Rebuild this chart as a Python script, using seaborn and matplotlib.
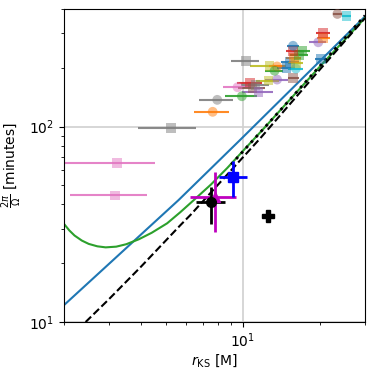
import numpy as np
import pandas as pd
import matplotlib
matplotlib.use("Agg")
import matplotlib.pyplot as plt
import seaborn as sns
from matplotlib.ticker import NullFormatter

# pontos "flare" (apagados): raio, erro em x, periodo, cor, marcador
r_flare = [5.24, 3.23, 3.17, 7.62, 7.94, 10.3, 9.91, 9.53, 10.7, 10.9, 11.2, 11.5,
           13.6, 12.6, 15.75, 12.7, 13.6, 13.3, 14.8, 16.1, 15.3, 16.1, 15.8, 17.0,
           16.6, 15.75, 15.7, 19.7, 20.2, 20.6, 20.6, 23.4, 25.4]
r_flare_err = [1.33, 1.3, 1.05, 1.2, 1.2, 1.3, 1.4, 1.2, 1.2, 1.3, 1.4, 1.6,
               1.4, 1.3, 0.8, 2.0, 1.0, 1.1, 1.2, 1.1, 1.2, 1.1, 1.0, 1.3,
               1.3, 1.0, 0.8, 1.5, 1.0, 1.2, 1.3, 1.0, 1.0]
p_flare = [98.4, 64.9, 44.4, 119, 137, 216, 143, 159, 168, 158, 163, 151,
           174, 172, 177, 205, 203, 193, 199, 198, 215, 211, 224, 245,
           232, 244, 259, 270, 221, 283, 300, 377, 369]
cores = ["gray", "pink", "pink", "orange", "gray", "gray", "green", "pink", "red", "brown", "gray", "purple",
         "purple", "olive", "brown", "olive", "orange", "green", "blue", "cyan", "blue", "olive", "orange", "green",
         "green", "red", "blue", "purple", "blue", "orange", "red", "brown", "cyan"]
marcadores = ["s", "s", "s", "o", "o", "s", "o", "o", "s", "s", "s", "s",
              "o", "s", "s", "s", "o", "o", "s", "o", "s", "s", "s", "s",
              "s", "s", "o", "o", "s", "s", "s", "o", "s"]

# pontos destacados
r_dest = [7.8, 7.51, 9.12]
r_dest_err = [[1.56, 0.95, 1.08], [1.62, 0.97, 1.3]]
p_dest = [43.8, 41.0, 55.5]
p_dest_err = [[15.0, 9.3, 11.7], [14.6, 8.3, 11.2]]
cor_dest = ["m", "k", "b"]
marc_dest = ["^", "o", "s"]
r_plus, p_plus = 12.5, 35.0

# curvas
r_azul = [2.0, 5.6, 9.76, 30.0]
p_azul = [12.2, 42.0, 85.5, 366]
r_verde = [2.0, 2.1, 2.2, 2.35, 2.5, 2.7, 2.91, 3.2, 3.5, 3.92, 4.4, 5.06, 5.7,
           6.5, 7.5, 8.7, 10.05, 12.0, 15.0, 20.0, 25.0, 30.0]
p_verde = [31.8, 29.4, 27.7, 26.1, 25.1, 24.4, 24.1, 24.3, 25.0, 26.5, 28.6, 32.0, 36.5,
           42.6, 50.5, 61.5, 75.5, 97.0, 134, 203, 278, 360]
r_tracejada = [2.43, 3.0, 4.0, 5.7, 6.24, 11.7, 20.0, 30.0]
p_tracejada = [10.0, 13.1, 19.2, 31.3, 35.3, 87.2, 196, 359]
r_pontilhada = [9.0, 15.0, 30.0]
p_pontilhada = [64.0, 134, 370]

tab = {"blue": "#1f77b4", "orange": "#ff7f0e", "green": "#2ca02c", "red": "#d62728",
       "purple": "#9467bd", "brown": "#8c564b", "pink": "#e377c2", "gray": "#7f7f7f",
       "olive": "#bcbd22", "cyan": "#17becf"}

df = pd.DataFrame({"r": r_flare, "p": p_flare, "cor": cores, "marc": marcadores})
df["id"] = df.index.astype(str)

fig = plt.figure(figsize=(3.74, 3.71), dpi=100)
ax = fig.add_axes([0.171, 0.132, 0.805, 0.844])
ax.set_xscale("log")
ax.set_yscale("log")

# barras de erro dos pontos apagados
for i in range(len(r_flare)):
    ax.errorbar(r_flare[i], p_flare[i], xerr=r_flare_err[i], fmt="none",
                ecolor=tab[cores[i]], elinewidth=1.5, alpha=0.9, zorder=2)

sns.scatterplot(data=df, x="r", y="p", hue="id", palette=[tab[c] for c in cores],
                style="id", markers=marcadores, s=50, alpha=0.5,
                edgecolor="none", legend=False, ax=ax, zorder=3)

# curvas
sns.lineplot(x=r_azul, y=p_azul, color="#1f77b4", lw=1.5, sort=False, estimator=None, ax=ax)
sns.lineplot(x=r_verde, y=p_verde, color="#2ca02c", lw=1.5, sort=False, estimator=None, ax=ax)
sns.lineplot(x=r_tracejada, y=p_tracejada, color="k", lw=1.5, linestyle="--",
             sort=False, estimator=None, ax=ax)
sns.lineplot(x=r_pontilhada, y=p_pontilhada, color="k", lw=2, linestyle=":",
             sort=False, estimator=None, ax=ax)

# pontos destacados
for i in range(len(r_dest)):
    ax.errorbar(r_dest[i], p_dest[i],
                xerr=[[r_dest_err[0][i]], [r_dest_err[1][i]]],
                yerr=[[p_dest_err[0][i]], [p_dest_err[1][i]]],
                fmt=marc_dest[i], color=cor_dest[i], ms=7, elinewidth=2, zorder=5)
ax.plot(r_plus, p_plus, "P", color="k", ms=9, zorder=5)

ax.set_xlim(2, 30)
ax.set_ylim(10, 400)
ax.xaxis.set_minor_formatter(NullFormatter())
ax.yaxis.set_minor_formatter(NullFormatter())
ax.grid(True, which="major", color="#d0d0d0", lw=1.2)
ax.set_axisbelow(True)
ax.set_xlabel(r"$r_{\rm KS}$ [M]", labelpad=1)
ax.set_ylabel(r"$\frac{2\pi}{\Omega}$ [minutes]", labelpad=4)

fig.savefig("out.png", dpi=100)
